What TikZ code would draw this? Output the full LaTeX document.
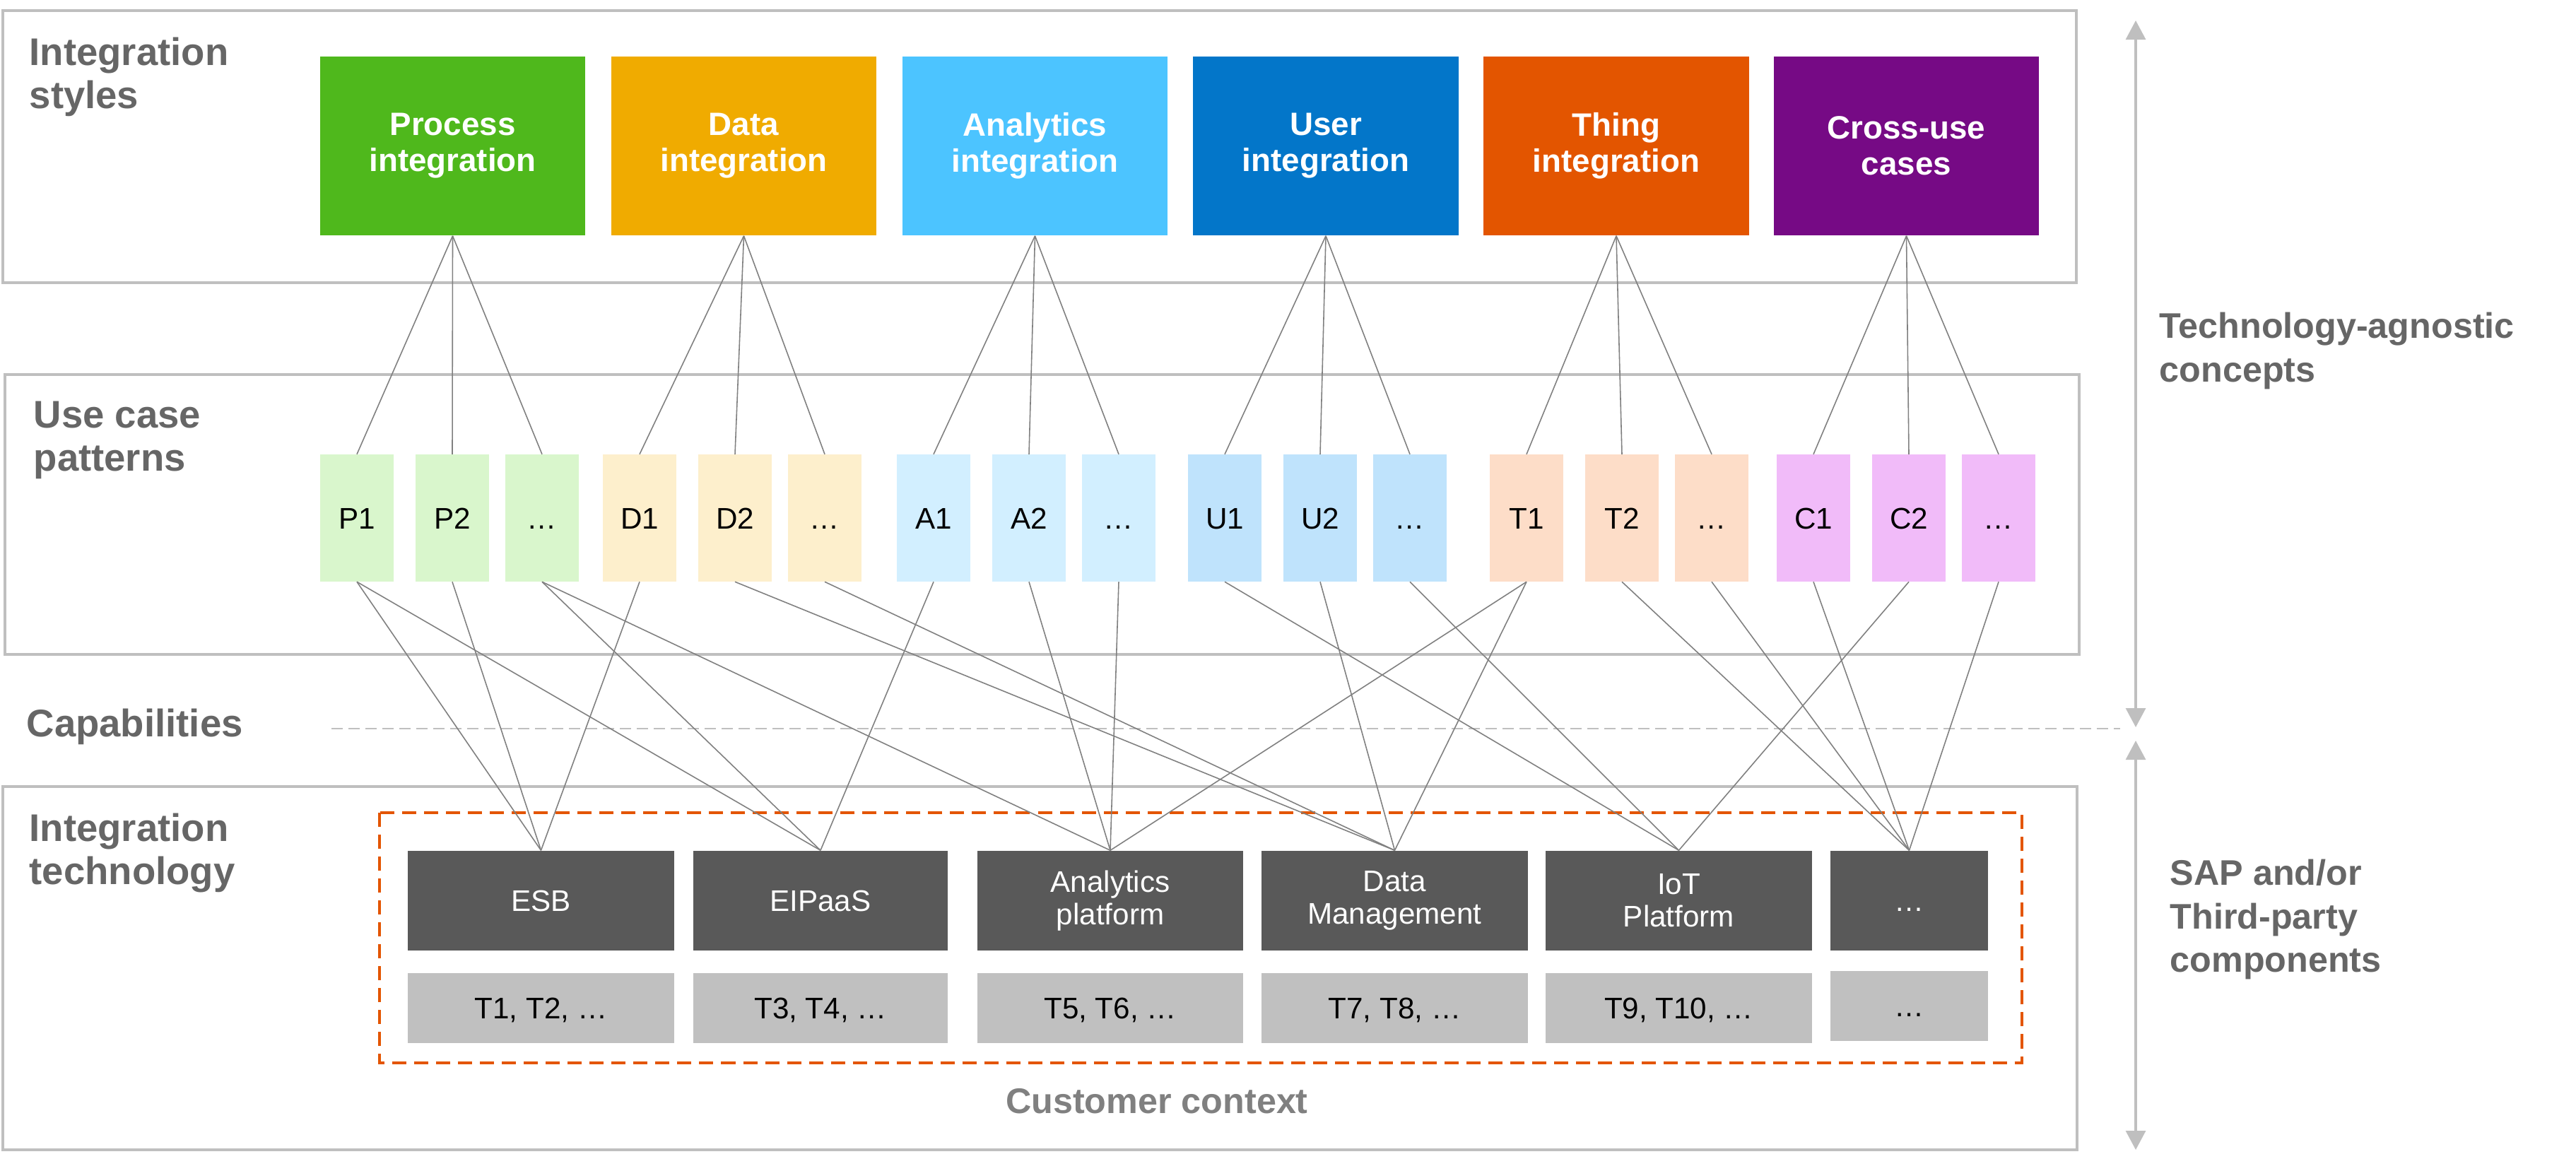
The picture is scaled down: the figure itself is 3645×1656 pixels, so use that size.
\documentclass[tikz,border=0pt]{standalone}
\usepackage{fontspec}
\setmainfont{Liberation Sans}
\usetikzlibrary{arrows.meta}

\definecolor{framegray}{HTML}{BFBFBF}
\definecolor{headgray}{HTML}{666666}
\definecolor{ctxgray}{HTML}{808080}
\definecolor{linkgray}{HTML}{808080}
\definecolor{techgray}{HTML}{595959}
\definecolor{toolgray}{HTML}{C0C0C0}
\definecolor{ctxorange}{HTML}{E35500}
% integration styles
\definecolor{procC}{HTML}{4FB81C}
\definecolor{dataC}{HTML}{F0AB00}
\definecolor{anaC}{HTML}{4CC4FF}
\definecolor{userC}{HTML}{0376C9}
\definecolor{thingC}{HTML}{E35500}
\definecolor{crossC}{HTML}{760A85}
% use case patterns
\definecolor{procL}{HTML}{D9F6CC}
\definecolor{dataL}{HTML}{FDEFCC}
\definecolor{anaL}{HTML}{D2EFFF}
\definecolor{userL}{HTML}{BFE3FC}
\definecolor{thingL}{HTML}{FDDDC8}
\definecolor{crossL}{HTML}{F1BBF9}

\begin{document}
\begin{tikzpicture}[x=0.01cm, y=-0.01cm,
    frame/.style={draw=framegray, line width=1pt},
    heading/.style={anchor=north west, inner sep=0pt, align=left, text=headgray, font=\fontsize{15.5}{17.4}\selectfont\bfseries},
    sidenote/.style={anchor=north west, inner sep=0pt, align=left, text=headgray, font=\fontsize{14.3}{17.6}\selectfont\bfseries},
    stylebox/.style={minimum width=3.75cm, minimum height=2.53cm, inner sep=0pt, align=center, text=white, font=\fontsize{13}{14.5}\selectfont\bfseries},
    patbox/.style={minimum width=1.04cm, minimum height=1.79cm, inner sep=0pt, text height=0.3cm, text depth=0pt, font=\fontsize{12}{13}\selectfont},
    techbox/.style={fill=techgray, minimum height=1.41cm, inner sep=0pt, align=center, text=white, font=\fontsize{12}{13}\selectfont},
    toolbox/.style={fill=toolgray, minimum height=0.99cm, inner sep=0pt, text height=0.3cm, text depth=0pt, font=\fontsize{12}{13}\selectfont},
    link/.style={draw=linkgray, line width=0.45pt},
    sidearrow/.style={draw=framegray, line width=0.9pt, {Triangle[width=0.28cm,length=0.27cm]}-{Triangle[width=0.28cm,length=0.27cm]}}]
  \useasboundingbox (0,0) rectangle (3645,1656);

  % layer frames
  \draw[frame] (4,15) rectangle (2938,400);
  \draw[frame] (7,530) rectangle (2942,926);
  \draw[frame] (4,1113) rectangle (2939,1627);
  \draw[ctxorange, line width=1.15pt, dash pattern=on 0.2cm off 0.11cm] (537,1150) rectangle (2861,1504);
  \draw[framegray, line width=0.8pt, dash pattern=on 0.16cm off 0.08cm] (469,1031) -- (3000,1031);

  % headings
  \node[heading] (hstyles) at (41,52) {Integration\\styles};
  \node[heading] (hpatterns) at (47,567) {Use case\\patterns};
  \node[heading] (hcap) at (37,1002) {Capabilities};
  \node[heading] (htech) at (41,1150) {Integration\\technology};
  \node[sidenote] (hagnostic) at (3055,441) {Technology-agnostic\\concepts};
  \node[sidenote] (hcomp) at (3070,1215) {SAP and/or\\Third-party\\components};
  \node[anchor=base, inner sep=0pt, text=ctxgray, font=\fontsize{14.3}{16}\selectfont\bfseries] (ctx) at (1637,1575) {Customer context};

  % side arrows
  \coordinate (agtop) at (3022,29);
  \coordinate (agbot) at (3022,1029);
  \coordinate (cptop) at (3022,1048);
  \coordinate (cpbot) at (3022,1627);
  \draw[sidearrow] (agtop) -- (agbot);
  \draw[sidearrow] (cptop) -- (cpbot);

  % integration styles
  \node[stylebox, fill=procC] (proc) at (640.5,206.5) {Process\\integration};
  \node[stylebox, fill=dataC] (data) at (1052.5,206.5) {Data\\integration};
  \node[stylebox, fill=anaC] (ana) at (1464.5,206.5) {Analytics\\integration};
  \node[stylebox, fill=userC] (user) at (1876,206.5) {User\\integration};
  \node[stylebox, fill=thingC] (thing) at (2287,206.5) {Thing\\integration};
  \node[stylebox, fill=crossC] (cross) at (2697.5,206.5) {Cross-use\\cases};

  % use case patterns
  \foreach \name/\x/\col/\txt in {P1/505/procL/P1, P2/640/procL/P2, P3/767/procL/…,
      D1/905/dataL/D1, D2/1040/dataL/D2, D3/1167/dataL/…,
      A1/1321/anaL/A1, A2/1456/anaL/A2, A3/1583/anaL/…,
      U1/1733/userL/U1, U2/1868/userL/U2, U3/1995/userL/…,
      T1/2160/thingL/T1, T2/2295/thingL/T2, T3/2422/thingL/…,
      C1/2566/crossL/C1, C2/2701/crossL/C2, C3/2828/crossL/…}
    \node[patbox, fill=\col] (\name) at (\x,733) {\txt};

  % integration technology
  \node[techbox, minimum width=3.77cm] (esb) at (765.5,1274.5) {ESB};
  \node[techbox, minimum width=3.60cm] (eipaas) at (1161,1274.5) {EIPaaS};
  \node[techbox, minimum width=3.76cm] (anap) at (1571,1274.5) {Analytics\\platform};
  \node[techbox, minimum width=3.77cm] (dm) at (1973.5,1274.5) {Data\\Management};
  \node[techbox, minimum width=3.77cm] (iot) at (2375.5,1274.5) {IoT\\Platform};
  \node[techbox, minimum width=2.23cm, text height=0.3cm, text depth=0pt] (more) at (2701.5,1274.5) {…};

  \node[toolbox, minimum width=3.77cm] (esbT) at (765.5,1426.5) {T1, T2, …};
  \node[toolbox, minimum width=3.60cm] (eipaasT) at (1161,1426.5) {T3, T4, …};
  \node[toolbox, minimum width=3.76cm] (anapT) at (1571,1426.5) {T5, T6, …};
  \node[toolbox, minimum width=3.77cm] (dmT) at (1973.5,1426.5) {T7, T8, …};
  \node[toolbox, minimum width=3.77cm] (iotT) at (2375.5,1426.5) {T9, T10, …};
  \node[toolbox, minimum width=2.23cm] (moreT) at (2701.5,1423.5) {…};

  % styles to patterns
  \foreach \src/\dst in {proc/P1, proc/P2, proc/P3, data/D1, data/D2, data/D3,
      ana/A1, ana/A2, ana/A3, user/U1, user/U2, user/U3,
      thing/T1, thing/T2, thing/T3, cross/C1, cross/C2, cross/C3}
    \draw[link] (\src.south) -- (\dst.north);

  % patterns to technology
  \foreach \src/\dst in {P1/esb, P1/eipaas, P2/esb, P3/eipaas, P3/anap, D1/esb, D2/dm, D3/dm,
      A1/eipaas, A2/anap, A3/anap, U1/iot, U2/dm, U3/iot, T1/anap, T1/dm,
      T2/more, T3/more, C1/more, C2/iot, C3/more}
    \draw[link] (\src.south) -- (\dst.north);
\end{tikzpicture}
\end{document}
